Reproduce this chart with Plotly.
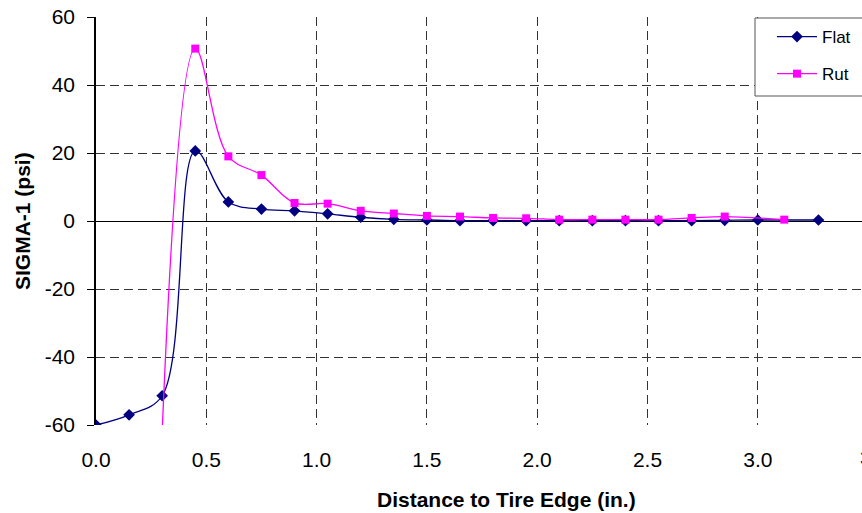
import plotly.graph_objects as go

# Data
flat_x = [0.0, 0.15, 0.3, 0.45, 0.6, 0.75, 0.9, 1.05, 1.2, 1.35, 1.5, 1.65, 1.8, 1.95,
          2.1, 2.25, 2.4, 2.55, 2.7, 2.85, 3.0, 3.275]
flat_y = [-60.0, -57.0, -51.4, 20.6, 5.6, 3.5, 3.0, 2.1, 1.1, 0.5, 0.3, 0.1, 0.1, 0.1,
          0.1, 0.1, 0.1, 0.1, 0.1, 0.2, 0.3, 0.3]

rut_x = [0.3, 0.45, 0.6, 0.75, 0.9, 1.05, 1.2, 1.35, 1.5, 1.65, 1.8, 1.95,
         2.1, 2.25, 2.4, 2.55, 2.7, 2.85, 3.12]
rut_y = [-62.0, 50.7, 19.0, 13.5, 5.3, 5.1, 3.0, 2.2, 1.5, 1.3, 0.9, 0.8,
         0.4, 0.4, 0.4, 0.4, 0.9, 1.3, 0.4]

y_tickvals = [-60, -40, -20, 0, 20, 40, 60]
y_ticktext = ["-60", "-40", "-20", "0", "20", "40", "60"]

x_title = "Distance to Tire Edge (in.)"
y_title = "SIGMA-1 (psi)"

FONT = "Liberation Sans, Arial, sans-serif"
W, H = 862, 513
L, R, T, B = 96, 0, 17, 88
PW, PH = W - L - R, H - T - B

def px_x(p):
    return (p - L) / PW

def px_y(p):
    return (H - B - p) / PH

fig = go.Figure()
fig.add_trace(go.Scatter(
    x=flat_x, y=flat_y, name="Flat", mode="lines+markers",
    line=dict(color="#000080", width=1.3, shape="spline", smoothing=1.0),
    marker=dict(symbol="diamond", size=9, color="#000080"),
    legendgroup="a"))
fig.add_trace(go.Scatter(
    x=rut_x, y=rut_y, name="Rut", mode="lines+markers",
    line=dict(color="#FF00FF", width=1.3, shape="spline", smoothing=1.0),
    marker=dict(symbol="square", size=8, color="#FF00FF"),
    legendgroup="b"))

# legend frame (extends past the right edge like the reference)
fig.add_shape(type="rect", xref="paper", yref="paper",
              x0=px_x(755), x1=px_x(880), y0=px_y(96), y1=px_y(18),
              fillcolor="white", line=dict(color="#555555", width=1), layer="above")

fig.update_layout(
    width=W, height=H,
    margin=dict(l=L, r=R, t=T, b=B, autoexpand=False),
    paper_bgcolor="white", plot_bgcolor="white",
    font=dict(family=FONT, size=21, color="black"),
    showlegend=True,
    legend=dict(x=px_x(772), y=px_y(19), xanchor="left", yanchor="top",
                bgcolor="rgba(0,0,0,0)", borderwidth=0, itemwidth=40,
                font=dict(size=17, family=FONT),
                traceorder="grouped", tracegroupgap=12),
    xaxis=dict(range=[0, (W - L - R) / 220.6], dtick=0.5, tick0=0, tickformat=".1f",
               showgrid=True, gridcolor="#333333", gridwidth=1, griddash="9px,5px",
               zeroline=False, showline=False, ticks="", ticklabelstandoff=20,
               tickfont=dict(size=21)),
    yaxis=dict(range=[-60, 60], tickmode="array", tickvals=y_tickvals, ticktext=y_ticktext,
               showgrid=True, gridcolor="#333333", gridwidth=1, griddash="9px,5px",
               zeroline=True, zerolinecolor="black", zerolinewidth=1.2,
               showline=True, linecolor="black", linewidth=1.5,
               ticks="outside", ticklen=7, tickcolor="black", ticklabelstandoff=8,
               tickfont=dict(size=21)),
    annotations=[
        dict(text="<b>" + x_title + "</b>", xref="paper", yref="paper",
             x=px_x(506.5), y=px_y(499), xanchor="center", yanchor="middle",
             showarrow=False, font=dict(size=21, family=FONT)),
        dict(text="<b>" + y_title + "</b>", xref="paper", yref="paper",
             x=px_x(22), y=0.5, xanchor="center", yanchor="middle", textangle=-90,
             showarrow=False, font=dict(size=21, family=FONT)),
        dict(text="3.5", xref="paper", yref="paper",
             x=px_x(874), y=px_y(457), xanchor="center", yanchor="middle",
             showarrow=False, font=dict(size=21, family=FONT)),
    ],
)

fig.write_html("out.html")
